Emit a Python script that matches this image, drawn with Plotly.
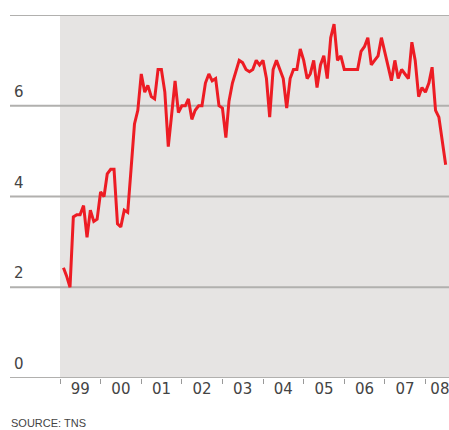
import pandas as pd
import plotly.graph_objects as go

# Monthly series, Feb 1999 - Jul 2008
start_month = "1999-02-01"
values = [
    2.43, 2.25, 2.0, 3.55, 3.6, 3.6, 3.8, 3.1, 3.7, 3.45, 3.5,           # 1999 (Feb-Dec)
    4.1, 4.0, 4.5, 4.6, 4.6, 3.4, 3.33, 3.7, 3.65, 4.6, 5.6, 5.9,        # 2000
    6.7, 6.3, 6.45, 6.2, 6.15, 6.8, 6.8, 6.3, 5.1, 5.8, 6.55, 5.85,      # 2001
    6.0, 6.0, 6.15, 5.7, 5.9, 6.0, 6.0, 6.5, 6.7, 6.55, 6.6, 6.0,        # 2002
    5.95, 5.3, 6.1, 6.5, 6.75, 7.0, 6.95, 6.8, 6.75, 6.8, 7.0, 6.9,      # 2003
    7.0, 6.6, 5.75, 6.8, 7.0, 6.8, 6.6, 5.95, 6.6, 6.8, 6.8, 7.25,       # 2004
    7.0, 6.6, 6.7, 7.0, 6.4, 6.9, 7.1, 6.6, 7.5, 7.8, 7.0, 7.1,          # 2005
    6.8, 6.8, 6.8, 6.8, 6.8, 7.2, 7.3, 7.5, 6.9, 7.0, 7.1, 7.5,          # 2006
    7.2, 6.85, 6.55, 7.0, 6.6, 6.8, 6.7, 6.6, 7.4, 7.0, 6.2, 6.4,        # 2007
    6.3, 6.5, 6.85, 5.9, 5.75, 5.2, 4.7,                                 # 2008 (Jan-Jul)
]
dates = pd.date_range(start_month, periods=len(values), freq="MS")

years = list(range(1999, 2009))
year_labels = ["99", "00", "01", "02", "03", "04", "05", "06", "07", "08"]
y_ticks = [0, 2, 4, 6]
grid_levels = [2, 4, 6, 8]
source_text = "SOURCE: TNS"

W, H = 449, 430
ML, MR, MT, MB = 60, 0, 15, 52
plot_w = W - ML - MR
plot_h = H - MT - MB
x_left = (10 - ML) / plot_w

# year labels centred mid-year; the last one nudged left so it stays inside the page
label_dates = [f"{y}-07-02" for y in years]
label_dates[-1] = "2008-05-10"

fig = go.Figure()
fig.add_trace(go.Scatter(
    x=dates, y=values, mode="lines",
    line=dict(color="#ed1c24", width=3),
    hoverinfo="skip", showlegend=False,
))

shapes = []
for g in grid_levels:
    shapes.append(dict(type="line", xref="paper", yref="y", x0=x_left, x1=1, y0=g, y1=g,
                       line=dict(color="#b1b0ae", width=2), layer="below"))
shapes.append(dict(type="line", xref="paper", yref="y", x0=x_left, x1=1, y0=0, y1=0,
                   line=dict(color="#b1b0ae", width=2), layer="above"))

annotations = []
for t in y_ticks:
    annotations.append(dict(text=str(t), xref="paper", yref="y", x=(12 - ML) / plot_w, y=t,
                            xanchor="left", yanchor="bottom", yshift=3, showarrow=False,
                            font=dict(family="DejaVu Sans", size=15, color="#444444")))
annotations.append(dict(text=source_text, xref="paper", yref="paper",
                        x=(9 - ML) / plot_w, y=-(431 - (H - MB)) / plot_h,
                        xanchor="left", yanchor="bottom", showarrow=False,
                        font=dict(family="Liberation Sans Narrow, Liberation Sans", size=11, color="#444444")))

fig.update_layout(
    width=W, height=H,
    margin=dict(l=ML, r=MR, t=MT, b=MB, pad=0, autoexpand=False),
    paper_bgcolor="white",
    plot_bgcolor="#e6e4e3",
    shapes=shapes,
    annotations=annotations,
    xaxis=dict(
        type="date",
        range=["1999-01-01", "2008-07-31"],
        tickvals=label_dates,
        ticktext=year_labels,
        ticks="", ticklen=6,
        ticklabeloverflow="allow",
        automargin=False,
        minor=dict(tick0="1999-01-01", dtick="M12", ticks="outside", ticklen=5,
                   tickwidth=1, tickcolor="#999999", showgrid=False),
        showgrid=False, zeroline=False, showline=False,
        tickfont=dict(family="DejaVu Sans", size=15, color="#444444"),
        fixedrange=True,
    ),
    yaxis=dict(
        range=[0, 8], showticklabels=False, showgrid=False, zeroline=False,
        showline=False, ticks="", fixedrange=True, automargin=False,
    ),
)

fig.write_html("out.html", config={"displayModeBar": False},
               post_script="document.body.style.margin='0';document.body.style.padding='0';")
